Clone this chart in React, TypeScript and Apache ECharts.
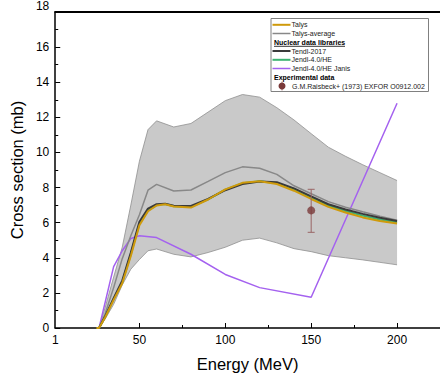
import React, { useEffect, useRef } from "react";
import * as echarts from "echarts";

// Uncertainty band of the Talys calculations (min / max over parameter sets)
const bandEnergy = [26.5, 30, 35, 40, 45, 50, 55, 60, 70, 80, 90, 100, 110, 120, 130, 140, 150, 160, 170, 180, 190, 200];
const bandUpper = [0, 1.15, 2.9, 4.6, 7.0, 9.5, 11.3, 11.8, 11.45, 11.65, 12.3, 12.95, 13.3, 13.15, 12.55, 11.85, 11.07, 10.3, 9.78, 9.3, 8.85, 8.4];
const bandLower = [0, 0.5, 1.35, 2.45, 3.35, 3.9, 4.4, 4.5, 4.2, 4.05, 4.3, 4.6, 5.0, 5.12, 4.85, 4.52, 4.35, 4.12, 4.0, 3.88, 3.74, 3.6];

// Talys-average shares the band energy grid
const talysAverage = [0, 0.8, 2.3, 3.95, 5.25, 6.45, 7.85, 8.18, 7.8, 7.86, 8.35, 8.85, 9.18, 9.1, 8.75, 8.1, 7.65, 7.2, 6.88, 6.62, 6.37, 6.14];

// Evaluated curves
const curveEnergy = [25, 26.5, 30, 35, 40, 45, 50, 55, 60, 65, 70, 80, 90, 100, 110, 120, 130, 140, 150, 160, 170, 180, 190, 200];
const talys = [0, 0, 0.6, 1.6, 2.55, 4.1, 5.85, 6.65, 6.98, 7.05, 6.92, 6.86, 7.32, 7.9, 8.27, 8.36, 8.2, 7.82, 7.35, 6.9, 6.58, 6.3, 6.1, 5.95];
const tendl2017 = [0, 0, 0.65, 1.7, 2.7, 4.3, 6.05, 6.8, 7.05, 7.08, 6.96, 6.95, 7.35, 7.85, 8.2, 8.35, 8.3, 7.95, 7.5, 7.05, 6.75, 6.5, 6.28, 6.1];
const jendlHE = [0, 0, 0.62, 1.65, 2.6, 4.2, 5.95, 6.7, 7.0, 7.06, 6.94, 6.9, 7.33, 7.88, 8.25, 8.36, 8.25, 7.88, 7.42, 6.98, 6.66, 6.4, 6.18, 6.02];

const janisEnergy = [26.5, 35, 40, 45, 50, 60, 80, 100, 120, 150, 200];
const jendlJanis = [0, 3.5, 4.4, 5.1, 5.25, 5.15, 4.2, 3.05, 2.3, 1.75, 12.8];

// G.M.Raisbeck+ (1973) measurement: [energy, value, lower, upper]
const expPoints = [[150, 6.7, 5.45, 7.9]];

const xLabelValues = [1, 50, 100, 150, 200];
const xMajorTicks = [50, 100, 150, 200];
const xMinorTicks = [75, 125, 175];

const legendLines = [
  { name: "Talys", color: "#CF9A0B", width: 2 },
  { name: "Talys-average", color: "#888888", width: 1.5 },
];
const legendLibraries = [
  { name: "Tendl-2017", color: "#3A3A3A", width: 2 },
  { name: "Jendl-4.0/HE", color: "#3CB371", width: 2 },
  { name: "Jendl-4.0/HE Janis", color: "#A461EF", width: 1.5 },
];
const expLabel = "G.M.Raisbeck+ (1973) EXFOR O0912.002";

const FONT = "'Liberation Sans', Arial, sans-serif";

function zip(xs: number[], ys: number[]) {
  return xs.map((x, i) => [x, ys[i]]);
}

export default function App() {
  const ref = useRef<HTMLDivElement>(null);

  useEffect(() => {
    if (!ref.current) return;
    const chart = echarts.init(ref.current, undefined, { renderer: "svg" });

    const legendX = 271;
    const rowY = [24.8, 33.5, 42.3, 51, 59.8, 68.5, 77.3, 86];
    const graphics: any[] = [
      {
        type: "rect",
        shape: { x: legendX, y: 18.5, width: 157.5, height: 73 },
        style: { fill: "#fff", stroke: "#808080", lineWidth: 1 },
        z: 100,
      },
    ];
    const addLineRow = (item: { name: string; color: string; width: number }, y: number) => {
      graphics.push({
        type: "line",
        shape: { x1: legendX + 1.5, y1: y, x2: legendX + 19.5, y2: y },
        style: { stroke: item.color, lineWidth: item.width },
        z: 101,
      });
      graphics.push({
        type: "text",
        x: legendX + 20.5,
        y,
        style: { text: item.name, fill: "#222", font: `7px ${FONT}`, verticalAlign: "middle" },
        z: 101,
      });
    };
    const addHeading = (text: string, y: number, underline: boolean, w: number) => {
      graphics.push({
        type: "text",
        x: legendX + 3,
        y,
        style: { text, fill: "#000", font: `bold 7px ${FONT}`, verticalAlign: "middle" },
        z: 101,
      });
      if (underline) {
        graphics.push({
          type: "line",
          shape: { x1: legendX + 3, y1: y + 4, x2: legendX + 3 + w, y2: y + 4 },
          style: { stroke: "#000", lineWidth: 0.8 },
          z: 101,
        });
      }
    };
    addLineRow(legendLines[0], rowY[0]);
    addLineRow(legendLines[1], rowY[1]);
    addHeading("Nuclear data libraries", rowY[2], true, 71);
    addLineRow(legendLibraries[0], rowY[3]);
    addLineRow(legendLibraries[1], rowY[4]);
    addLineRow(legendLibraries[2], rowY[5]);
    addHeading("Experimental data", rowY[6], false, 0);
    graphics.push({
      type: "line",
      shape: { x1: legendX + 11, y1: rowY[7] - 4.5, x2: legendX + 11, y2: rowY[7] + 4.5 },
      style: { stroke: "#9A6666", lineWidth: 0.8 },
      z: 101,
    });
    graphics.push({
      type: "circle",
      shape: { cx: legendX + 11, cy: rowY[7], r: 3.5 },
      style: { fill: "#7A3A3A" },
      z: 102,
    });
    graphics.push({
      type: "text",
      x: legendX + 21,
      y: rowY[7],
      style: { text: expLabel, fill: "#222", font: `7px ${FONT}`, verticalAlign: "middle" },
      z: 101,
    });

    const lineSeries = (name: string, data: number[][], color: string, width: number, z: number) => ({
      name,
      type: "line",
      data,
      symbol: "none",
      silent: true,
      z,
      lineStyle: { color, width },
    });

    chart.setOption({
      animation: false,
      backgroundColor: "#fff",
      grid: { left: 49.2, top: 11, right: -5.9, bottom: 51, containLabel: false },
      xAxis: [
        {
          type: "value",
          min: 1,
          max: 225,
          position: "bottom",
          offset: 0,
          axisLine: { show: true, onZero: false, lineStyle: { color: "#000", width: 1.5 } },
          axisTick: { show: true, inside: true, length: 5, customValues: xMajorTicks, lineStyle: { color: "#000", width: 1 } },
          axisLabel: { customValues: xLabelValues, color: "#000", fontSize: 12, fontFamily: FONT, margin: 6 },
          splitLine: { show: false },
          name: "Energy (MeV)",
          nameLocation: "middle",
          nameGap: 27,
          nameTextStyle: { fontSize: 16.5, color: "#000", fontFamily: FONT, fontWeight: "normal" },
        },
        {
          type: "value",
          min: 1,
          max: 225,
          position: "bottom",
          offset: 0,
          axisLine: { show: false, onZero: false },
          axisTick: { show: true, inside: true, length: 3, customValues: xMinorTicks, lineStyle: { color: "#000", width: 1 } },
          axisLabel: { show: false },
          splitLine: { show: false },
        },
        {
          type: "value",
          min: 1,
          max: 225,
          position: "top",
          offset: 0,
          axisLine: { show: true, onZero: false, lineStyle: { color: "#000", width: 2 } },
          axisTick: { show: false },
          axisLabel: { show: false },
          splitLine: { show: false },
        },
      ],
      yAxis: {
        type: "value",
        min: 0,
        max: 18,
        interval: 2,
        axisLine: { show: true, onZero: false, lineStyle: { color: "#000", width: 1.5 } },
        axisTick: { show: true, inside: true, length: 5, lineStyle: { color: "#000", width: 1 } },
        minorTick: { show: true, splitNumber: 2, length: 3, lineStyle: { color: "#000", width: 1 } },
        splitLine: { show: false },
        minorSplitLine: { show: false },
        axisLabel: {
          color: "#000",
          fontSize: 12,
          fontFamily: FONT,
          margin: 6,
          formatter: (v: number) => (v === 18 ? "{top|18}" : String(v)),
          rich: { top: { fontSize: 12, fontFamily: FONT, color: "#000", padding: [0, 0, 12, 0] } },
        },
        name: "Cross section (mb)",
        nameLocation: "middle",
        nameGap: 22,
        nameTextStyle: { fontSize: 16.5, color: "#000", fontFamily: FONT, fontWeight: "normal" },
      },
      graphic: graphics,
      series: [
        {
          name: "Talys band",
          type: "custom",
          silent: true,
          z: 1,
          data: bandEnergy.map((e, i) => [e, bandLower[i], bandUpper[i]]),
          renderItem: (params: any, api: any) => {
            if (params.dataIndex !== 0) return null;
            const pts: number[][] = [];
            bandEnergy.forEach((e, i) => pts.push(api.coord([e, bandUpper[i]])));
            for (let i = bandEnergy.length - 1; i >= 0; i--) pts.push(api.coord([bandEnergy[i], bandLower[i]]));
            return { type: "polygon", shape: { points: pts }, style: { fill: "#C9C9C9" } };
          },
        },
        lineSeries("band upper", zip(bandEnergy, bandUpper), "#8F8F8F", 0.8, 2),
        lineSeries("band lower", zip(bandEnergy, bandLower), "#8F8F8F", 0.8, 2),
        lineSeries(legendLibraries[2].name, zip(janisEnergy, jendlJanis), legendLibraries[2].color, 1.5, 3),
        lineSeries(legendLines[1].name, zip(bandEnergy, talysAverage), legendLines[1].color, 1.5, 4),
        lineSeries(legendLibraries[1].name, zip(curveEnergy, jendlHE), legendLibraries[1].color, 2, 5),
        lineSeries(legendLibraries[0].name, zip(curveEnergy, tendl2017), legendLibraries[0].color, 2, 6),
        lineSeries(legendLines[0].name, zip(curveEnergy, talys), legendLines[0].color, 2, 7),
        {
          name: "error bars",
          type: "custom",
          silent: true,
          z: 8,
          data: expPoints,
          renderItem: (_params: any, api: any) => {
            const x = api.value(0);
            const top = api.coord([x, api.value(3)]);
            const bot = api.coord([x, api.value(2)]);
            const style = { stroke: "#9A6666", lineWidth: 1 };
            return {
              type: "group",
              children: [
                { type: "line", shape: { x1: top[0], y1: top[1], x2: bot[0], y2: bot[1] }, style },
                { type: "line", shape: { x1: top[0] - 3.5, y1: top[1], x2: top[0] + 3.5, y2: top[1] }, style },
                { type: "line", shape: { x1: bot[0] - 3.5, y1: bot[1], x2: bot[0] + 3.5, y2: bot[1] }, style },
              ],
            };
          },
        },
        {
          name: expLabel,
          type: "scatter",
          silent: true,
          z: 9,
          data: expPoints.map((p) => [p[0], p[1]]),
          symbol: "circle",
          symbolSize: 8,
          itemStyle: { color: "#7A3A3A" },
        },
      ],
    });

    return () => chart.dispose();
  }, []);

  return (
    <div
      ref={ref}
      style={{ position: "fixed", left: 0, top: 0, width: 440, height: 379, background: "#fff" }}
    />
  );
}
